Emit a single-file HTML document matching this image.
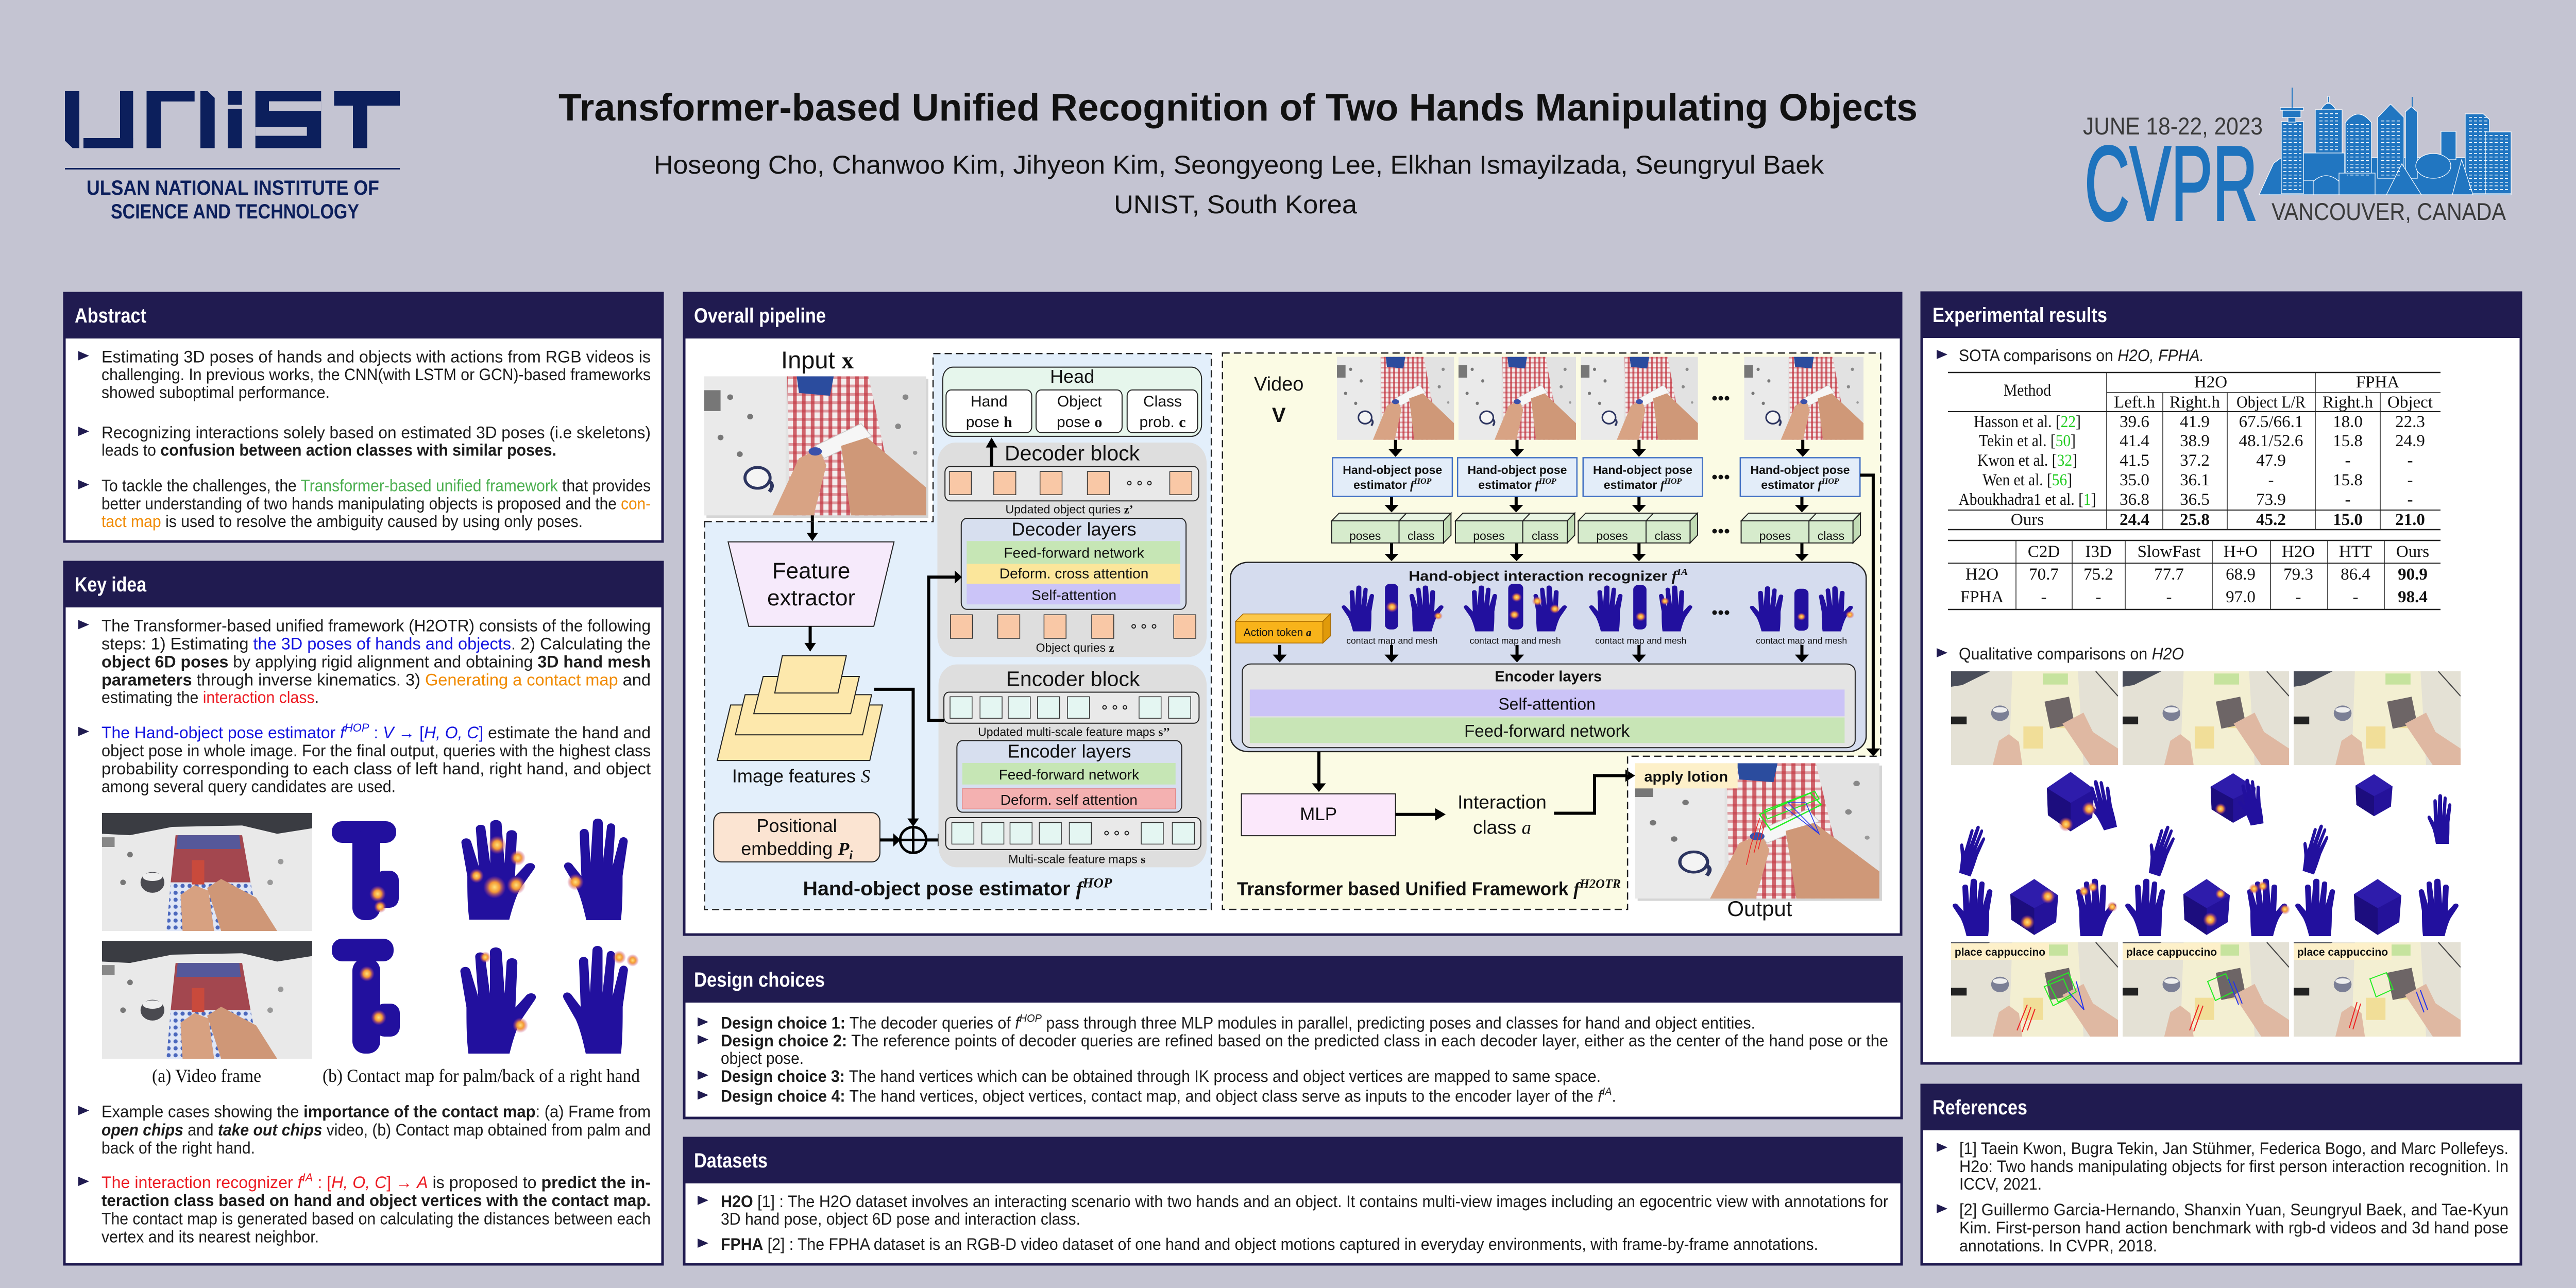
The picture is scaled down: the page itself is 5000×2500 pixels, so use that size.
<!DOCTYPE html>
<html><head><meta charset="utf-8">
<style>
html,body{margin:0;padding:0;background:#c4c4d2;}
svg{display:block}
.t{font-family:"Liberation Sans",Arial,sans-serif;font-size:32px;fill:#1c1c1c}
.ht{font-family:"Liberation Sans",Arial,sans-serif;font-size:40px;font-weight:bold;fill:#fff}
.b{font-weight:bold}
.it{font-style:italic}
.sf{font-family:"Liberation Serif","Times New Roman",serif}
.blue{fill:#1515e0}
.org{fill:#f08a00}
.red{fill:#ec1c24}
.grn{fill:#4caf50}
.gn{fill:#22cc22}
.tb{font-family:"Liberation Serif","Times New Roman",serif;font-size:33px;fill:#111;text-anchor:middle}
.d{font-family:"Liberation Sans",Arial,sans-serif;fill:#111;text-anchor:middle}
.ga *, .gb *{vector-effect:non-scaling-stroke}
</style></head><body>
<svg width="5000" height="2500" viewBox="0 0 5000 2500" xmlns="http://www.w3.org/2000/svg">
<defs>
 <pattern id="chk" width="12" height="12" patternUnits="userSpaceOnUse"><rect width="12" height="12" fill="#f4eeee"/><rect width="5" height="12" fill="#c2343f" opacity=".75"/><rect width="12" height="4" fill="#c2343f" opacity=".45"/></pattern>
 <pattern id="blu" width="10" height="10" patternUnits="userSpaceOnUse"><rect width="10" height="10" fill="#dfe6f6"/><circle cx="5" cy="5" r="3" fill="#4a67bd"/></pattern>
 <pattern id="win" width="10" height="7" patternUnits="userSpaceOnUse"><rect x="2" y="3" width="6" height="1.5" fill="#fff"/></pattern>
 <radialGradient id="hot"><stop offset="0" stop-color="#ffe27a"/><stop offset=".45" stop-color="#f59a35"/><stop offset="1" stop-color="#c03a8a" stop-opacity="0"/></radialGradient>
 <symbol id="tphoto" viewBox="0 0 300 200" preserveAspectRatio="none">
  <rect width="300" height="200" fill="#e2e2e2"/>
  <rect width="110" height="200" fill="#eaeaea"/>
  <rect x="0" y="20" width="22" height="30" fill="#777"/>
  <polygon points="112,0 222,0 262,200 116,200" fill="url(#chk)"/>
  <polygon points="125,0 175,0 170,28 128,24" fill="#2b4c9e"/>
  <circle cx="35" cy="30" r="4" fill="#777"/><circle cx="62" cy="58" r="4" fill="#777"/><circle cx="22" cy="88" r="4" fill="#777"/><circle cx="48" cy="112" r="4" fill="#777"/><circle cx="272" cy="30" r="4" fill="#888"/><circle cx="262" cy="72" r="4" fill="#888"/><circle cx="285" cy="110" r="3" fill="#999"/>
  <ellipse cx="72" cy="146" rx="17" ry="15" fill="#f4f4f4" stroke="#2d3560" stroke-width="4"/>
  <path d="M86,150 q10,5 2,16" stroke="#2d3560" stroke-width="5" fill="none"/>
  <polygon points="150,100 212,68 226,86 162,118" fill="#f6f6f6" stroke="#c8c8c8"/>
  <polygon points="92,200 148,200 165,128 155,104 128,118" fill="#d8a384"/>
  <polygon points="198,200 300,200 300,160 220,88 185,100" fill="#cf9878"/>
  <ellipse cx="150" cy="108" rx="9" ry="6" fill="#3a50aa"/>
 </symbol>
 <symbol id="kphoto" viewBox="0 0 300 170" preserveAspectRatio="none">
  <rect width="300" height="170" fill="#e9e9e9"/>
  <polygon points="0,0 300,0 300,22 250,30 200,18 100,20 40,32 0,30" fill="#3a3c42"/>
  <rect x="0" y="35" width="18" height="14" fill="#888"/>
  <polygon points="105,32 200,32 212,100 98,100" fill="#a3474f"/>
  <polygon points="108,32 196,32 198,52 106,52" fill="#55589a"/>
  <polygon points="98,100 212,100 226,170 92,170" fill="url(#blu)"/>
  <ellipse cx="72" cy="100" rx="17" ry="15" fill="#4a4a50"/>
  <ellipse cx="72" cy="92" rx="14" ry="6" fill="#eee"/>
  <rect x="128" y="68" width="18" height="35" fill="#c94a3c"/>
  <polygon points="115,170 160,170 152,112 132,104 112,118" fill="#d7a181"/>
  <polygon points="170,170 250,170 220,122 170,95 150,108" fill="#cf9777"/>
  <circle cx="40" cy="60" r="4" fill="#777"/><circle cx="30" cy="100" r="4" fill="#777"/><circle cx="255" cy="70" r="4" fill="#999"/><circle cx="240" cy="100" r="4" fill="#999"/>
 </symbol>
 <symbol id="qphoto" viewBox="0 0 300 170" preserveAspectRatio="none">
  <rect width="300" height="170" fill="#e4e1d5"/>
  <polygon points="110,0 228,0 238,170 104,170" fill="#f3efd2"/>
  <rect x="130" y="100" width="35" height="40" fill="#f0d98a" opacity=".8"/>
  <rect x="190" y="75" width="28" height="28" fill="#f0dc8e" opacity=".8"/>
  <rect x="165" y="4" width="45" height="20" fill="#c6e39e"/>
  <polygon points="0,0 70,0 20,25 0,28" fill="#4a4e5a"/>
  <rect x="0" y="82" width="28" height="14" fill="#222"/>
  <ellipse cx="88" cy="76" rx="16" ry="14" fill="#7b7f95"/>
  <ellipse cx="88" cy="70" rx="13" ry="5" fill="#eee"/>
  <polygon points="168,55 212,46 222,95 178,104" fill="#6d6566"/>
  <polygon points="200,95 238,75 255,110 300,140 300,170 250,170 220,125" fill="#dfb8a2"/>
  <polygon points="75,170 128,170 122,128 104,114 86,126" fill="#e0baa4"/>
  <line x1="260" y1="0" x2="300" y2="45" stroke="#444" stroke-width="2"/>
 </symbol>
 <symbol id="hand" viewBox="0 0 100 140" preserveAspectRatio="none">
  <path d="M30 140 C26 120 22 105 18 96 L4 70 C0 62 10 58 14 66 L24 80 L22 22 C22 14 33 14 33 22 L35 62 L38 8 C38 0 50 0 50 8 L50 62 L55 14 C55 6 66 7 65 15 L62 66 L70 32 C72 24 82 27 80 35 L74 80 C74 100 74 120 72 140 Z" fill="#22109e"/>
 </symbol>
 <symbol id="cube" viewBox="0 0 100 100" preserveAspectRatio="none">
  <polygon points="50,2 96,30 92,76 50,98 6,72 4,28" fill="#24129a"/>
  <polygon points="50,2 96,30 50,52 4,28" fill="#2e1cab"/>
  <polygon points="50,52 50,98 6,72 4,28" fill="#1c0d7e"/>
 </symbol>
</defs>

<rect width="5000" height="2500" fill="#c4c4d2"/>

<!-- ===== HEADER ===== -->
<g fill="#0c1f5c">
 <polygon points="126,177 154,177 154,287.5 141,287.5 126,273"/>
 <rect x="162" y="268" width="96.4" height="19.5"/>
 <rect x="233" y="177" width="25.4" height="110.5"/>
 <rect x="284.5" y="177" width="27.5" height="110.5"/>
 <rect x="312" y="177" width="65.7" height="20"/>
 <polygon points="389,177 403,177 416.7,190 416.7,287.5 389,287.5"/>
 <rect x="442" y="177" width="27.5" height="26.5"/>
 <rect x="442" y="211.6" width="27.5" height="76"/>
 <rect x="495.7" y="177" width="127.6" height="110.5"/>
 <rect x="648.5" y="177" width="127.5" height="28"/>
 <rect x="685" y="177" width="27.8" height="110.5"/>
 <rect x="126" y="326" width="650" height="3"/>
</g>
<rect x="522" y="196.6" width="101.3" height="18.4" fill="#c4c4d2"/>
<rect x="495.7" y="246.6" width="100" height="17" fill="#c4c4d2"/>
<text x="168" y="378" font-family="Liberation Sans, Arial, sans-serif" font-weight="bold" font-size="40" fill="#0c1f5c" textLength="568" lengthAdjust="spacingAndGlyphs">ULSAN NATIONAL INSTITUTE OF</text>
<text x="215" y="424" font-family="Liberation Sans, Arial, sans-serif" font-weight="bold" font-size="40" fill="#0c1f5c" textLength="482" lengthAdjust="spacingAndGlyphs">SCIENCE AND TECHNOLOGY</text>

<text x="1084" y="234" font-family="Liberation Sans, Arial, sans-serif" font-weight="bold" font-size="74" fill="#111" textLength="2638" lengthAdjust="spacingAndGlyphs">Transformer-based Unified Recognition of Two Hands Manipulating Objects</text>
<text x="1269" y="337" font-family="Liberation Sans, Arial, sans-serif" font-size="50" fill="#111" textLength="2271" lengthAdjust="spacingAndGlyphs">Hoseong Cho, Chanwoo Kim, Jihyeon Kim, Seongyeong Lee, Elkhan Ismayilzada, Seungryul Baek</text>
<text x="2162" y="414" font-family="Liberation Sans, Arial, sans-serif" font-size="50" fill="#111" textLength="472" lengthAdjust="spacingAndGlyphs">UNIST, South Korea</text>

<!-- CVPR logo -->
<text x="4043" y="261" font-family="Liberation Sans, Arial, sans-serif" font-size="47" fill="#3a3a3a" textLength="349" lengthAdjust="spacingAndGlyphs">JUNE 18-22, 2023</text>
<text x="4046" y="427" font-family="Liberation Sans, Arial, sans-serif" font-size="206" fill="#1e73bd" stroke="#1e73bd" stroke-width="4" textLength="336" lengthAdjust="spacingAndGlyphs">CVPR</text>
<text x="4409" y="427" font-family="Liberation Sans, Arial, sans-serif" font-size="47" fill="#3a3a3a" textLength="455" lengthAdjust="spacingAndGlyphs">VANCOUVER, CANADA</text>
<g fill="#2176c1" stroke="#fff" stroke-width="1.2">
 <polygon points="4385,378 4413,317 4428,306 4874,306 4874,378"/>
 <rect x="4494" y="213" width="52" height="84"/>
 <path d="M4505 213 Q4519 188 4534 213 Z"/>
 <rect x="4518" y="187" width="3" height="12"/>
 <path d="M4552 350 L4552 238 Q4577 205 4603 238 L4603 350 Z"/>
 <polygon points="4615,346 4615,228 4640,202 4666,228 4666,346"/>
 <polygon points="4669,346 4669,217 4680,207 4692,217 4692,346"/>
 <rect x="4738" y="255" width="29" height="55"/>
 <polygon points="4785,376 4785,221 4820,221 4832,232 4832,376"/>
 <rect x="4824" y="256" width="50" height="120"/>
 <rect x="4471" y="297" width="80" height="53"/>
 <ellipse cx="4723" cy="322" rx="34" ry="24"/>
 <polygon points="4632,378 4662,318 4700,378"/>
 <polygon points="4760,378 4778,310 4800,378"/>
 <rect x="4540" y="336" width="70" height="42"/>
 <path d="M4490 378 L4490 352 Q4515 330 4540 352 L4540 378 Z"/>
 <rect x="4428" y="236" width="43" height="140"/>
 <rect x="4441" y="228" width="15" height="9"/>
 <rect x="4430" y="214" width="36" height="14"/>
 <rect x="4426" y="209" width="45" height="5"/>
</g>
<line x1="4449" y1="170" x2="4449" y2="209" stroke="#2176c1" stroke-width="2"/>
<line x1="4682" y1="188" x2="4682" y2="207" stroke="#2176c1" stroke-width="2"/>
<rect x="4432" y="240" width="35" height="130" fill="url(#win)"/>
<rect x="4498" y="218" width="44" height="75" fill="url(#win)"/>
<rect x="4556" y="240" width="43" height="105" fill="url(#win)"/>
<rect x="4619" y="232" width="43" height="110" fill="url(#win)"/>
<rect x="4789" y="226" width="39" height="145" fill="url(#win)"/>
<rect x="4828" y="262" width="42" height="110" fill="url(#win)"/>

<!-- ===== PANELS ===== -->
<g stroke="#201b50" stroke-width="5" fill="#fff">
 <rect x="125" y="569" width="1161" height="482"/>
 <rect x="125" y="1091" width="1161" height="1363"/>
 <rect x="1328" y="569" width="2362" height="1245"/>
 <rect x="1328" y="1858" width="2363" height="312"/>
 <rect x="1328" y="2209" width="2363" height="245"/>
 <rect x="3730" y="568" width="1163" height="1496"/>
 <rect x="3730" y="2106" width="1163" height="348"/>
</g>
<g fill="#201b50">
 <rect x="122.5" y="566.5" width="1166" height="90.5"/>
 <rect x="122.5" y="1088.5" width="1166" height="90.5"/>
 <rect x="1325.5" y="566.5" width="2367" height="90.5"/>
 <rect x="1325.5" y="1855.5" width="2368" height="90.5"/>
 <rect x="1325.5" y="2206.5" width="2368" height="90.5"/>
 <rect x="3727.5" y="565.5" width="1168" height="90.5"/>
 <rect x="3727.5" y="2103.5" width="1168" height="90.5"/>
</g>
<text class="ht" x="145" y="626" textLength="139" lengthAdjust="spacingAndGlyphs">Abstract</text>
<text class="ht" x="145" y="1148" textLength="139" lengthAdjust="spacingAndGlyphs">Key idea</text>
<text class="ht" x="1347" y="626" textLength="256" lengthAdjust="spacingAndGlyphs">Overall pipeline</text>
<text class="ht" x="1347" y="1915" textLength="254" lengthAdjust="spacingAndGlyphs">Design choices</text>
<text class="ht" x="1347" y="2266" textLength="143" lengthAdjust="spacingAndGlyphs">Datasets</text>
<text class="ht" x="3751" y="625" textLength="339" lengthAdjust="spacingAndGlyphs">Experimental results</text>
<text class="ht" x="3751" y="2163" textLength="184" lengthAdjust="spacingAndGlyphs">References</text>

<!-- bullets -->
<g fill="#201b50">
 <polygon points="152,681.5 152,699.5 173,690.5"/>
 <polygon points="152,828.3 152,846.3 173,837.3"/>
 <polygon points="152,931.6 152,949.6 173,940.6"/>
 <polygon points="152,1203.4 152,1221.4 173,1212.4"/>
 <polygon points="152,1410.8 152,1428.8 173,1419.8"/>
 <polygon points="152,2146.5 152,2164.5 173,2155.5"/>
 <polygon points="152,2284 152,2302 173,2293"/>
 <polygon points="1354,1974.6 1354,1992.6 1375,1983.6"/>
 <polygon points="1354,2008.8 1354,2026.8 1375,2017.8"/>
 <polygon points="1354,2078 1354,2096 1375,2087"/>
 <polygon points="1354,2116.5 1354,2134.5 1375,2125.5"/>
 <polygon points="1354,2320.8 1354,2338.8 1375,2329.8"/>
 <polygon points="1354,2404 1354,2422 1375,2413"/>
 <polygon points="3759,679 3759,697 3780,688"/>
 <polygon points="3759,1258 3759,1276 3780,1267"/>
 <polygon points="3759,2218 3759,2236 3780,2227"/>
 <polygon points="3759,2337 3759,2355 3780,2346"/>
</g>

<!-- ===== ABSTRACT ===== -->
<text class="t" x="197" y="703.5" textLength="1066" lengthAdjust="spacingAndGlyphs">Estimating 3D poses of hands and objects with actions from RGB videos is</text>
<text class="t" x="197" y="738" textLength="1066" lengthAdjust="spacingAndGlyphs">challenging. In previous works, the CNN(with LSTM or GCN)-based frameworks</text>
<text class="t" x="197" y="772.5" textLength="443" lengthAdjust="spacingAndGlyphs">showed suboptimal performance.</text>
<text class="t" x="197" y="850.3" textLength="1066" lengthAdjust="spacingAndGlyphs">Recognizing interactions solely based on estimated 3D poses (i.e skeletons)</text>
<text class="t" x="197" y="884.7" textLength="883" lengthAdjust="spacingAndGlyphs">leads to <tspan class="b">confusion between action classes with similar poses.</tspan></text>
<text class="t" x="197" y="953.6" textLength="1066" lengthAdjust="spacingAndGlyphs">To tackle the challenges, the <tspan class="grn">Transformer-based unified framework</tspan> that provides</text>
<text class="t" x="197" y="988.7" textLength="1066" lengthAdjust="spacingAndGlyphs">better understanding of two hands manipulating objects is proposed and the <tspan class="org">con-</tspan></text>
<text class="t" x="197" y="1023.2" textLength="934" lengthAdjust="spacingAndGlyphs"><tspan class="org">tact map</tspan> is used to resolve the ambiguity caused by using only poses.</text>

<!-- ===== KEY IDEA ===== -->
<text class="t" x="197" y="1225.4" textLength="1066" lengthAdjust="spacingAndGlyphs">The Transformer-based unified framework (H2OTR) consists of the following</text>
<text class="t" x="197" y="1260.5" textLength="1066" lengthAdjust="spacingAndGlyphs">steps: 1) Estimating <tspan class="blue">the 3D poses of hands and objects</tspan>.  2) Calculating the</text>
<text class="t" x="197" y="1295.6" textLength="1066" lengthAdjust="spacingAndGlyphs"><tspan class="b">object 6D poses</tspan> by applying rigid alignment and obtaining <tspan class="b">3D hand mesh</tspan></text>
<text class="t" x="197" y="1330.7" textLength="1066" lengthAdjust="spacingAndGlyphs"><tspan class="b">parameters</tspan> through inverse kinematics.  3) <tspan class="org">Generating a contact map</tspan> and</text>
<text class="t" x="197" y="1364.5" textLength="422" lengthAdjust="spacingAndGlyphs">estimating the <tspan class="red">interaction class</tspan>.</text>
<text class="t" x="197" y="1432.8" textLength="1066" lengthAdjust="spacingAndGlyphs"><tspan class="blue">The Hand-object pose estimator </tspan><tspan class="blue it">f</tspan><tspan class="blue it" font-size="22" dy="-13">HOP</tspan><tspan class="blue" dy="13"> : </tspan><tspan class="blue it">V</tspan><tspan class="blue"> → [</tspan><tspan class="blue it">H, O, C</tspan><tspan class="blue">]</tspan> estimate the hand and</text>
<text class="t" x="197" y="1467.9" textLength="1066" lengthAdjust="spacingAndGlyphs">object pose in whole image.  For the final output, queries with the highest class</text>
<text class="t" x="197" y="1503" textLength="1066" lengthAdjust="spacingAndGlyphs">probability corresponding to each class of left hand, right hand, and object</text>
<text class="t" x="197" y="1537.4" textLength="571" lengthAdjust="spacingAndGlyphs">among several query candidates are used.</text>

<!-- key idea images -->
<use href="#kphoto" x="198" y="1578" width="408" height="229"/>
<use href="#kphoto" x="198" y="1826" width="408" height="229"/>
<!-- row 1 hands -->
<rect x="644" y="1594" width="125" height="42" rx="20" fill="#22109e"/>
<rect x="684" y="1612" width="54" height="174" rx="24" fill="#22109e"/>
<rect x="728" y="1690" width="46" height="72" rx="18" fill="#22109e"/>
<circle cx="733" cy="1735" r="16" fill="url(#hot)"/><circle cx="738" cy="1760" r="12" fill="url(#hot)"/>
<use href="#hand" transform="translate(1044 1589) scale(-1 1)" width="185" height="196"/>
<circle cx="965" cy="1640" r="18" fill="url(#hot)"/><circle cx="1005" cy="1665" r="15" fill="url(#hot)"/><circle cx="960" cy="1722" r="22" fill="url(#hot)"/><circle cx="1002" cy="1718" r="18" fill="url(#hot)"/><circle cx="925" cy="1700" r="14" fill="url(#hot)"/>
<use href="#hand" x="1090" y="1586" width="160" height="200"/>
<circle cx="1117" cy="1712" r="16" fill="url(#hot)"/>
<!-- row 2 hands -->
<rect x="644" y="1822" width="120" height="44" rx="20" fill="#22109e"/>
<rect x="684" y="1860" width="54" height="185" rx="24" fill="#22109e"/>
<rect x="728" y="1948" width="48" height="64" rx="18" fill="#22109e"/>
<circle cx="712" cy="1890" r="15" fill="url(#hot)"/><circle cx="735" cy="1975" r="15" fill="url(#hot)"/>
<use href="#hand" transform="translate(1046 1836) scale(-1 1)" width="190" height="209"/>
<circle cx="942" cy="1858" r="11" fill="url(#hot)"/><circle cx="1010" cy="1990" r="15" fill="url(#hot)"/>
<use href="#hand" x="1088" y="1833" width="163" height="212"/>
<circle cx="1202" cy="1858" r="13" fill="url(#hot)"/><circle cx="1228" cy="1864" r="12" fill="url(#hot)"/>
<text class="sf" x="401" y="2100" font-size="36" fill="#111" text-anchor="middle" textLength="212" lengthAdjust="spacingAndGlyphs">(a) Video frame</text>
<text class="sf" x="934" y="2100" font-size="36" fill="#111" text-anchor="middle" textLength="616" lengthAdjust="spacingAndGlyphs">(b) Contact map for palm/back of a right hand</text>

<text class="t" x="197" y="2168.5" textLength="1066" lengthAdjust="spacingAndGlyphs">Example cases showing the <tspan class="b">importance of the contact map</tspan>: (a) Frame from</text>
<text class="t" x="197" y="2204" textLength="1066" lengthAdjust="spacingAndGlyphs"><tspan class="b it">open chips</tspan> and <tspan class="b it">take out chips</tspan> video, (b) Contact map obtained from palm and</text>
<text class="t" x="197" y="2239" textLength="298" lengthAdjust="spacingAndGlyphs">back of the right hand.</text>
<text class="t" x="197" y="2306" textLength="1066" lengthAdjust="spacingAndGlyphs"><tspan class="red">The interaction recognizer </tspan><tspan class="red it">f</tspan><tspan class="red it" font-size="22" dy="-13">IA</tspan><tspan class="red" dy="13"> : [</tspan><tspan class="red it">H, O, C</tspan><tspan class="red">] → </tspan><tspan class="red it">A</tspan> is proposed to <tspan class="b">predict the in-</tspan></text>
<text class="t b" x="197" y="2341" textLength="1066" lengthAdjust="spacingAndGlyphs">teraction class based on hand and object vertices with the contact map.</text>
<text class="t" x="197" y="2376.6" textLength="1066" lengthAdjust="spacingAndGlyphs">The contact map is generated based on calculating the distances between each</text>
<text class="t" x="197" y="2411.5" textLength="422" lengthAdjust="spacingAndGlyphs">vertex and its nearest neighbor.</text>

<!-- ===== PIPELINE ===== -->
<g class="ga" transform="translate(1320 560) scale(0.7015 0.8036)">
 <polygon points="68,563 700,563 700,157 1470,157 1470,1500 68,1500" fill="#e3effb"/>
 <rect x="73" y="218" width="614" height="336" fill="#888" opacity=".35"/>
 <use href="#tphoto" x="67" y="212" width="614" height="336"/>
 <line x1="366" y1="548" x2="366" y2="592" stroke="#000" stroke-width="6"/>
 <polygon points="350,590 382,590 366,610" fill="#000"/>
 <polygon points="133,612 592,612 536,816 190,816" fill="#f6eafb" stroke="#222" stroke-width="2"/>
 <line x1="360" y1="816" x2="360" y2="858" stroke="#000" stroke-width="6"/>
 <polygon points="344,856 376,856 360,877" fill="#000"/>
 <g fill="#fde8ac" stroke="#222" stroke-width="2">
  <polygon points="140,1006 560,1006 525,1140 103,1140"/>
  <polygon points="180,981 530,981 505,1078 153,1078"/>
  <polygon points="230,937 496,937 472,1027 204,1027"/>
  <polygon points="283,887 460,887 437,977 262,977"/>
 </g>
 <rect x="93" y="1266" width="460" height="119" rx="22" fill="#fbe4d2" stroke="#222" stroke-width="2"/>
 <line x1="553" y1="1332" x2="592" y2="1332" stroke="#000" stroke-width="6"/>
 <polygon points="590,1316 590,1348 610,1332" fill="#000"/>
 <polyline points="537,968 645,968 645,1282" fill="none" stroke="#000" stroke-width="6"/>
 <polygon points="629,1280 661,1280 645,1300" fill="#000"/>
 <ellipse cx="645" cy="1332" rx="36" ry="31" fill="none" stroke="#000" stroke-width="5"/>
 <line x1="609" y1="1332" x2="681" y2="1332" stroke="#000" stroke-width="5"/>
 <line x1="645" y1="1301" x2="645" y2="1363" stroke="#000" stroke-width="5"/>
 <line x1="681" y1="1332" x2="715" y2="1332" stroke="#000" stroke-width="6"/>
 <polygon points="713,1316 713,1348 735,1332" fill="#000"/>
 <!-- head -->
 <rect x="727" y="190" width="716" height="167" rx="28" fill="#e6f6ec" stroke="#222" stroke-width="2"/>
 <rect x="736" y="245" width="237" height="103" rx="14" fill="#fff" stroke="#222" stroke-width="2"/>
 <rect x="985" y="245" width="238" height="103" rx="14" fill="#fff" stroke="#222" stroke-width="2"/>
 <rect x="1237" y="245" width="195" height="103" rx="14" fill="#fff" stroke="#222" stroke-width="2"/>
 <!-- decoder block -->
 <rect x="712" y="372" width="745" height="518" rx="50" fill="#dedede"/>
 <line x1="862" y1="430" x2="862" y2="382" stroke="#000" stroke-width="6"/>
 <polygon points="846,384 878,384 862,360" fill="#000"/>
 <rect x="733" y="430" width="702" height="83" rx="14" fill="#e9e9e9" stroke="#222" stroke-width="2"/>
 <g fill="#f9c8a6" stroke="#333" stroke-width="1.5">
  <rect x="745" y="442" width="61" height="56"/><rect x="868" y="442" width="61" height="56"/><rect x="996" y="442" width="61" height="56"/><rect x="1127" y="442" width="61" height="56"/><rect x="1355" y="442" width="61" height="56"/>
  <rect x="748" y="788" width="61" height="57"/><rect x="879" y="788" width="61" height="57"/><rect x="1007" y="788" width="61" height="57"/><rect x="1139" y="788" width="61" height="57"/><rect x="1366" y="788" width="61" height="57"/>
 </g>
 <rect x="778" y="555" width="622" height="220" rx="16" fill="#d7dfef" stroke="#222" stroke-width="2"/>
 <rect x="793" y="610" width="591" height="55" fill="#c6e6b5"/>
 <rect x="793" y="665" width="591" height="48" fill="#fbe69b"/>
 <rect x="793" y="713" width="591" height="50" fill="#cbc4f8"/>
 <!-- encoder block -->
 <rect x="715" y="908" width="742" height="490" rx="50" fill="#dedede"/>
 <rect x="730" y="975" width="706" height="75" rx="14" fill="#e9e9e9" stroke="#222" stroke-width="2"/>
 <rect x="735" y="1278" width="706" height="77" rx="14" fill="#e9e9e9" stroke="#222" stroke-width="2"/>
 <g fill="#e4f6f2" stroke="#333" stroke-width="1.5">
  <rect x="747" y="986" width="61" height="52"/><rect x="830" y="986" width="61" height="52"/><rect x="908" y="986" width="61" height="52"/><rect x="989" y="986" width="61" height="52"/><rect x="1072" y="986" width="61" height="52"/><rect x="1270" y="986" width="61" height="52"/><rect x="1352" y="986" width="61" height="52"/>
  <rect x="752" y="1290" width="61" height="52"/><rect x="835" y="1290" width="61" height="52"/><rect x="913" y="1290" width="61" height="52"/><rect x="994" y="1290" width="61" height="52"/><rect x="1077" y="1290" width="61" height="52"/><rect x="1276" y="1290" width="61" height="52"/><rect x="1362" y="1290" width="61" height="52"/>
 </g>
 <rect x="766" y="1092" width="622" height="173" rx="16" fill="#d7dfef" stroke="#222" stroke-width="2"/>
 <rect x="781" y="1146" width="590" height="52" fill="#c6e6b5"/>
 <rect x="781" y="1208" width="590" height="49" fill="#f4b1b1" stroke="#e07a7a" stroke-width="1"/>
 <polyline points="730,1043 688,1043 688,697 762,697" fill="none" stroke="#000" stroke-width="6"/>
 <polygon points="760,681 760,713 780,697" fill="#000"/>
</g>
<!-- dots in left pipeline rows -->
<g fill="none" stroke="#222" stroke-width="2">
 <circle cx="2192" cy="937.7" r="3.5"/><circle cx="2212" cy="937.7" r="3.5"/><circle cx="2231" cy="937.7" r="3.5"/>
 <circle cx="2200.5" cy="1215.7" r="3.5"/><circle cx="2220" cy="1215.7" r="3.5"/><circle cx="2240" cy="1215.7" r="3.5"/>
 <circle cx="2144" cy="1373" r="3.5"/><circle cx="2164" cy="1373" r="3.5"/><circle cx="2183.5" cy="1373" r="3.5"/>
 <circle cx="2147.8" cy="1617" r="3.5"/><circle cx="2167.5" cy="1617" r="3.5"/><circle cx="2187" cy="1617" r="3.5"/>
</g>
<polygon points="1367.7,1012.4 1811.1,1012.4 1811.1,686.2 2351.2,686.2 2351.2,1765.4 1367.7,1765.4" fill="none" stroke="#222" stroke-width="2.5" stroke-dasharray="14 8"/>
<!-- left pipeline texts -->
<text class="d" x="1586.6" y="715" font-size="47">Input <tspan class="sf b">x</tspan></text>
<text class="d" x="1574.6" y="1122.5" font-size="44">Feature</text>
<text class="d" x="1574.6" y="1174.8" font-size="44">extractor</text>
<text class="d" x="1555" y="1518.7" font-size="36">Image features <tspan class="sf it">S</tspan></text>
<text class="d" x="1546.6" y="1615.1" font-size="36">Positional</text>
<text class="d" x="1546.6" y="1659.3" font-size="36">embedding <tspan class="sf b it">P</tspan><tspan class="sf b it" font-size="24" dy="8">i</tspan></text>
<text class="d" x="2081.1" y="743.2" font-size="36">Head</text>
<text class="d" x="1919.8" y="789" font-size="30">Hand</text>
<text class="d" x="1919.8" y="829.2" font-size="30">pose <tspan class="sf b">h</tspan></text>
<text class="d" x="2095.2" y="789" font-size="30">Object</text>
<text class="d" x="2095.2" y="829.2" font-size="30">pose  <tspan class="sf b">o</tspan></text>
<text class="d" x="2256.5" y="789" font-size="30">Class</text>
<text class="d" x="2256.5" y="829.2" font-size="30">prob. <tspan class="sf b">c</tspan></text>
<text class="d" x="2081.1" y="893.5" font-size="41">Decoder block</text>
<text class="d" x="2075.5" y="996.4" font-size="23">Updated object quries <tspan class="sf b">z’</tspan></text>
<text class="d" x="2084.6" y="1039.7" font-size="36">Decoder layers</text>
<text class="d" x="2084.6" y="1082.3" font-size="28">Feed-forward network</text>
<text class="d" x="2084.6" y="1122.5" font-size="28">Deform. cross attention</text>
<text class="d" x="2084.6" y="1164.3" font-size="28">Self-attention</text>
<text class="d" x="2086.7" y="1264.8" font-size="23">Object quries <tspan class="sf b">z</tspan></text>
<text class="d" x="2082.5" y="1331.5" font-size="41">Encoder block</text>
<text class="d" x="2084.6" y="1428.7" font-size="23">Updated multi-scale feature maps <tspan class="sf b">s’’</tspan></text>
<text class="d" x="2075.5" y="1470.5" font-size="36">Encoder layers</text>
<text class="d" x="2074.8" y="1513.1" font-size="28">Feed-forward network</text>
<text class="d" x="2074.8" y="1562.1" font-size="28">Deform. self attention</text>
<text class="d" x="2090.2" y="1675.4" font-size="23">Multi-scale feature maps <tspan class="sf b">s</tspan></text>
<text x="1558.5" y="1737.3" font-family="Liberation Sans, Arial, sans-serif" font-weight="bold" font-size="38" fill="#111" textLength="600" lengthAdjust="spacingAndGlyphs">Hand-object pose estimator <tspan class="sf it">f</tspan><tspan class="sf it" font-size="26" dy="-15">HOP</tspan></text>

<!-- right pipeline -->
<g class="gb" transform="translate(2360 640) scale(0.8546 0.7526)">
 <polygon points="15,60 1510,60 1510,1100 935,1100 935,1495 15,1495" fill="#fbfbe4"/>
 <use href="#tphoto" x="275" y="70" width="266" height="214"/>
 <use href="#tphoto" x="551" y="70" width="267" height="214"/>
 <use href="#tphoto" x="829" y="70" width="266" height="214"/>
 <use href="#tphoto" x="1200" y="70" width="271" height="214"/>
 <g stroke="#000" stroke-width="6">
  <line x1="408" y1="284" x2="408" y2="310"/><line x1="684" y1="284" x2="684" y2="310"/><line x1="961" y1="284" x2="961" y2="310"/><line x1="1333" y1="284" x2="1333" y2="310"/>
  <line x1="399" y1="430" x2="399" y2="454"/><line x1="682" y1="430" x2="682" y2="454"/><line x1="961" y1="430" x2="961" y2="454"/><line x1="1331" y1="430" x2="1331" y2="454"/>
  <line x1="399" y1="550" x2="399" y2="580"/><line x1="683" y1="550" x2="683" y2="580"/><line x1="961" y1="550" x2="961" y2="580"/><line x1="1331" y1="550" x2="1331" y2="580"/>
 </g>
 <g fill="#000">
  <polygon points="392,308 424,308 408,328"/><polygon points="668,308 700,308 684,328"/><polygon points="945,308 977,308 961,328"/><polygon points="1317,308 1349,308 1333,328"/>
  <polygon points="383,452 415,452 399,471"/><polygon points="666,452 698,452 682,471"/><polygon points="945,452 977,452 961,471"/><polygon points="1315,452 1347,452 1331,471"/>
  <polygon points="383,578 415,578 399,597"/><polygon points="667,578 699,578 683,597"/><polygon points="945,578 977,578 961,597"/><polygon points="1315,578 1347,578 1331,597"/>
 </g>
 <g fill="#e3edf9" stroke="#4472c4" stroke-width="2.5">
  <rect x="265" y="330" width="272" height="100"/><rect x="549" y="330" width="271" height="100"/><rect x="834" y="330" width="271" height="100"/><rect x="1191" y="330" width="272" height="100"/>
 </g>
 <g stroke="#222" stroke-width="2">
  <polygon points="263,493 280,473 534,473 517,493" fill="#e9f5e3"/><polygon points="517,493 534,473 534,530 517,550" fill="#c2dcb5"/><rect x="263" y="493" width="254" height="57" fill="#d6ebcc"/><line x1="416" y1="493" x2="416" y2="550"/><line x1="416" y1="493" x2="433" y2="473"/>
  <polygon points="544,493 561,473 815,473 798,493" fill="#e9f5e3"/><polygon points="798,493 815,473 815,530 798,550" fill="#c2dcb5"/><rect x="544" y="493" width="254" height="57" fill="#d6ebcc"/><line x1="697" y1="493" x2="697" y2="550"/><line x1="697" y1="493" x2="714" y2="473"/>
  <polygon points="823,493 840,473 1094,473 1077,493" fill="#e9f5e3"/><polygon points="1077,493 1094,473 1094,530 1077,550" fill="#c2dcb5"/><rect x="823" y="493" width="254" height="57" fill="#d6ebcc"/><line x1="977" y1="493" x2="977" y2="550"/><line x1="977" y1="493" x2="994" y2="473"/>
  <polygon points="1193,493 1210,473 1464,473 1447,493" fill="#e9f5e3"/><polygon points="1447,493 1464,473 1464,530 1447,550" fill="#c2dcb5"/><rect x="1193" y="493" width="254" height="57" fill="#d6ebcc"/><line x1="1347" y1="493" x2="1347" y2="550"/><line x1="1347" y1="493" x2="1364" y2="473"/>
 </g>
 <rect x="33" y="600" width="1444" height="488" rx="40" fill="#d5dcee" stroke="#222" stroke-width="2.5"/>
 <!-- contact hands -->
 <use href="#hand" x="283" y="658" width="95" height="120"/>
 <rect x="384" y="655" width="30" height="118" rx="12" fill="#22109e"/>
 <circle cx="400" cy="715" r="14" fill="url(#hot)"/>
 <use href="#hand" transform="translate(520 658) scale(-1 1)" width="100" height="120"/>
 <circle cx="505" cy="738" r="10" fill="url(#hot)"/>
 <use href="#hand" x="560" y="658" width="98" height="120"/>
 <rect x="664" y="655" width="34" height="118" rx="12" fill="#22109e"/>
 <circle cx="683" cy="690" r="12" fill="url(#hot)"/><circle cx="678" cy="735" r="12" fill="url(#hot)"/>
 <use href="#hand" transform="translate(800 658) scale(-1 1)" width="98" height="120"/>
 <circle cx="730" cy="700" r="12" fill="url(#hot)"/><circle cx="770" cy="720" r="12" fill="url(#hot)"/>
 <use href="#hand" x="845" y="658" width="98" height="120"/>
 <rect x="948" y="658" width="30" height="115" rx="12" fill="#22109e"/>
 <circle cx="965" cy="740" r="12" fill="url(#hot)"/>
 <use href="#hand" transform="translate(1085 658) scale(-1 1)" width="98" height="120"/>
 <circle cx="1020" cy="700" r="10" fill="url(#hot)"/>
 <use href="#hand" x="1210" y="660" width="98" height="118"/>
 <rect x="1314" y="668" width="32" height="108" rx="12" fill="#22109e"/>
 <circle cx="1330" cy="740" r="10" fill="url(#hot)"/>
 <use href="#hand" transform="translate(1450 660) scale(-1 1)" width="100" height="118"/>
 <circle cx="1440" cy="735" r="10" fill="url(#hot)"/>
 <!-- action token -->
 <polygon points="45,752 62,733 260,733 243,752" fill="#fcc84a" stroke="#a86a00" stroke-width="1.5"/>
 <polygon points="243,752 260,733 260,790 243,808" fill="#e09a0a" stroke="#a86a00" stroke-width="1.5"/>
 <rect x="45" y="752" width="198" height="56" fill="#f8b31a" stroke="#a86a00" stroke-width="1.5"/>
 <g stroke="#000" stroke-width="6">
  <line x1="145" y1="813" x2="145" y2="840"/><line x1="399" y1="813" x2="399" y2="840"/><line x1="684" y1="813" x2="684" y2="840"/><line x1="961" y1="813" x2="961" y2="840"/><line x1="1331" y1="813" x2="1331" y2="840"/>
 </g>
 <g fill="#000">
  <polygon points="129,838 161,838 145,858"/><polygon points="383,838 415,838 399,858"/><polygon points="668,838 700,838 684,858"/><polygon points="945,838 977,838 961,858"/><polygon points="1315,838 1347,838 1331,858"/>
 </g>
 <rect x="60" y="862" width="1392" height="216" rx="20" fill="#e4e4e4" stroke="#222" stroke-width="2"/>
 <rect x="77" y="928" width="1351" height="69" fill="#cbc3f7"/>
 <rect x="77" y="1000" width="1351" height="66" fill="#c8e5b6"/>
 <polyline points="1463,375 1493,375 1493,1082" fill="none" stroke="#000" stroke-width="6"/>
 <polygon points="1477,1080 1509,1080 1493,1100" fill="#000"/>
 <line x1="234" y1="1088" x2="234" y2="1172" stroke="#000" stroke-width="6"/>
 <polygon points="218,1170 250,1170 234,1192" fill="#000"/>
 <rect x="58" y="1197" width="350" height="108" fill="#fbe8fb" stroke="#222" stroke-width="2"/>
 <line x1="408" y1="1250" x2="500" y2="1250" stroke="#000" stroke-width="6"/>
 <polygon points="498,1234 498,1266 522,1250" fill="#000"/>
 <polyline points="768,1247 860,1247 860,1150 932,1150" fill="none" stroke="#000" stroke-width="6"/>
 <polygon points="930,1134 930,1166 952,1150" fill="#000"/>
 <rect x="958" y="1124" width="555" height="349" fill="#888" opacity=".35"/>
 <use href="#tphoto" x="952" y="1118" width="555" height="349"/>
 <polygon points="1235,1250 1350,1195 1375,1225 1260,1290" fill="none" stroke="#22ee22" stroke-width="2.5"/>
 <polygon points="1245,1240 1360,1190 1370,1210 1252,1262" fill="none" stroke="#22ee22" stroke-width="2"/>
 <polyline points="1290,1230 1370,1300 1340,1220 1300,1220 1370,1300" fill="none" stroke="#2233ee" stroke-width="1.5"/>
 <path d="M1235,1260 L1215,1330 L1205,1380 M1240,1270 L1222,1350 M1245,1280 L1232,1340" fill="none" stroke="#ee2222" stroke-width="1.5"/>
 <rect x="952" y="1118" width="233" height="65" fill="#fdf0c9"/>
</g>
<polygon points="2372.8,685.2 3650.4,685.2 3650.4,1467.9 3159.1,1467.9 3159.1,1765.1 2372.8,1765.1" fill="none" stroke="#222" stroke-width="2.5" stroke-dasharray="14 8"/>
<g fill="#111">
 <circle cx="3328" cy="773" r="4.5"/><circle cx="3340" cy="773" r="4.5"/><circle cx="3352" cy="773" r="4.5"/>
 <circle cx="3328" cy="926" r="4.5"/><circle cx="3340" cy="926" r="4.5"/><circle cx="3352" cy="926" r="4.5"/>
 <circle cx="3328" cy="1031" r="4.5"/><circle cx="3340" cy="1031" r="4.5"/><circle cx="3352" cy="1031" r="4.5"/>
 <circle cx="3328" cy="1189" r="4.5"/><circle cx="3340" cy="1189" r="4.5"/><circle cx="3352" cy="1189" r="4.5"/>
</g>
<!-- right pipeline texts -->
<text class="d" x="2482.2" y="758.2" font-size="38">Video</text>
<text class="d sf b" x="2482.2" y="819" font-size="40">V</text>
<g class="d b" font-size="23">
 <text x="2702.7" y="920">Hand-object pose</text>
 <text x="2945" y="920">Hand-object pose</text>
 <text x="3188.5" y="920">Hand-object pose</text>
 <text x="3494" y="920">Hand-object pose</text>
 <text x="2702.7" y="949">estimator <tspan class="sf it">f</tspan><tspan class="sf it" font-size="16" dy="-10">HOP</tspan></text>
 <text x="2945" y="949">estimator <tspan class="sf it">f</tspan><tspan class="sf it" font-size="16" dy="-10">HOP</tspan></text>
 <text x="3188.5" y="949">estimator <tspan class="sf it">f</tspan><tspan class="sf it" font-size="16" dy="-10">HOP</tspan></text>
 <text x="3494" y="949">estimator <tspan class="sf it">f</tspan><tspan class="sf it" font-size="16" dy="-10">HOP</tspan></text>
</g>
<g class="d" font-size="23">
 <text x="2649.7" y="1048">poses</text><text x="2758.2" y="1048">class</text>
 <text x="2889.9" y="1048">poses</text><text x="2999.2" y="1048">class</text>
 <text x="3129.1" y="1048">poses</text><text x="3237.7" y="1048">class</text>
 <text x="3445.3" y="1048">poses</text><text x="3553.9" y="1048">class</text>
</g>
<text x="2734.3" y="1126.9" font-family="Liberation Sans, Arial, sans-serif" font-weight="bold" font-size="27" fill="#111" textLength="542" lengthAdjust="spacingAndGlyphs">Hand-object interaction recognizer <tspan class="sf it">f</tspan><tspan class="sf it" font-size="18" dy="-11">IA</tspan></text>
<g class="d" font-size="17.5">
 <text x="2701.8" y="1249.6">contact map and mesh</text>
 <text x="2941.1" y="1249.6">contact map and mesh</text>
 <text x="3184.7" y="1249.6">contact map and mesh</text>
 <text x="3496.6" y="1249.6">contact map and mesh</text>
</g>
<text class="d" x="2479.6" y="1234.6" font-size="21">Action token <tspan class="sf b it">a</tspan></text>
<text class="d b" x="3005.2" y="1322.6" font-size="29">Encoder layers</text>
<text class="d" x="3002.6" y="1377.5" font-size="32">Self-attention</text>
<text class="d" x="3002.6" y="1430.2" font-size="33">Feed-forward network</text>
<text class="d" x="2559.1" y="1592" font-size="35">MLP</text>
<text class="d" x="2915.5" y="1569.5" font-size="37">Interaction</text>
<text class="d" x="2915.5" y="1618.4" font-size="37">class <tspan class="sf it">a</tspan></text>
<text class="d b" x="3272.7" y="1516.8" font-size="29">apply lotion</text>
<text class="d" x="3415.4" y="1777.9" font-size="42">Output</text>
<text x="2401" y="1737.3" font-family="Liberation Sans, Arial, sans-serif" font-weight="bold" font-size="36" fill="#111" textLength="745" lengthAdjust="spacingAndGlyphs">Transformer based Unified Framework <tspan class="sf it">f</tspan><tspan class="sf it" font-size="25" dy="-14">H2OTR</tspan></text>

<!-- ===== DESIGN CHOICES ===== -->
<text class="t" x="1399" y="1996.6" textLength="2008" lengthAdjust="spacingAndGlyphs"><tspan class="b">Design choice 1:</tspan> The decoder queries of <tspan class="it">f</tspan><tspan class="it" font-size="21" dy="-13">HOP</tspan><tspan dy="13"> pass through three MLP modules in parallel, predicting poses and classes for hand and object entities.</tspan></text>
<text class="t" x="1399" y="2030.8" textLength="2266" lengthAdjust="spacingAndGlyphs"><tspan class="b">Design choice 2:</tspan> The reference points of decoder queries are refined based on the predicted class in each decoder layer, either as the center of the hand pose or the</text>
<text class="t" x="1399" y="2065" textLength="161" lengthAdjust="spacingAndGlyphs">object pose.</text>
<text class="t" x="1399" y="2100" textLength="1708" lengthAdjust="spacingAndGlyphs"><tspan class="b">Design choice 3:</tspan> The hand vertices which can be obtained through IK process and object vertices are mapped to same space.</text>
<text class="t" x="1399" y="2138.5" textLength="1738" lengthAdjust="spacingAndGlyphs"><tspan class="b">Design choice 4:</tspan> The hand vertices, object vertices, contact map, and object class serve as inputs to the encoder layer of the <tspan class="it">f</tspan><tspan class="it" font-size="21" dy="-13">IA</tspan><tspan dy="13">.</tspan></text>

<!-- ===== DATASETS ===== -->
<text class="t" x="1399" y="2342.8" textLength="2266" lengthAdjust="spacingAndGlyphs"><tspan class="b">H2O</tspan> [1] : The H2O dataset involves an interacting scenario with two hands and an object.  It contains multi-view images including an egocentric view with annotations for</text>
<text class="t" x="1399" y="2377" textLength="698" lengthAdjust="spacingAndGlyphs">3D hand pose, object 6D pose and interaction class.</text>
<text class="t" x="1399" y="2426" textLength="2130" lengthAdjust="spacingAndGlyphs"><tspan class="b">FPHA</tspan> [2] : The FPHA dataset is an RGB-D video dataset of one hand and object motions captured in everyday environments, with frame-by-frame annotations.</text>

<!-- ===== EXPERIMENTAL RESULTS ===== -->
<text class="t" x="3802" y="701" textLength="476" lengthAdjust="spacingAndGlyphs">SOTA comparisons on <tspan class="it">H2O, FPHA.</tspan></text>
<g stroke="#222">
 <line x1="3781" y1="723" x2="4737" y2="723" stroke-width="2.5"/>
 <line x1="4089" y1="762" x2="4737" y2="762" stroke-width="1.5"/>
 <line x1="3781" y1="799" x2="4737" y2="799" stroke-width="2"/>
 <line x1="3781" y1="990" x2="4737" y2="990" stroke-width="2"/>
 <line x1="3781" y1="1028" x2="4737" y2="1028" stroke-width="2.5"/>
 <line x1="4089" y1="723" x2="4089" y2="1028" stroke-width="1.5"/>
 <line x1="4198" y1="762" x2="4198" y2="1028" stroke-width="1.5"/>
 <line x1="4323" y1="762" x2="4323" y2="1028" stroke-width="1.5"/>
 <line x1="4494" y1="723" x2="4494" y2="1028" stroke-width="1.5"/>
 <line x1="4620" y1="762" x2="4620" y2="1028" stroke-width="1.5"/>
 <line x1="3781" y1="1049" x2="4737" y2="1049" stroke-width="2.5"/>
 <line x1="3781" y1="1093" x2="4737" y2="1093" stroke-width="2"/>
 <line x1="3781" y1="1183" x2="4737" y2="1183" stroke-width="2.5"/>
 <line x1="3913" y1="1049" x2="3913" y2="1183" stroke-width="1.5"/>
 <line x1="4022" y1="1049" x2="4022" y2="1183" stroke-width="1.5"/>
 <line x1="4125" y1="1049" x2="4125" y2="1183" stroke-width="1.5"/>
 <line x1="4294" y1="1049" x2="4294" y2="1183" stroke-width="1.5"/>
 <line x1="4407" y1="1049" x2="4407" y2="1183" stroke-width="1.5"/>
 <line x1="4518" y1="1049" x2="4518" y2="1183" stroke-width="1.5"/>
 <line x1="4628" y1="1049" x2="4628" y2="1183" stroke-width="1.5"/>
</g>
<text class="tb" x="3935" y="768" textLength="92" lengthAdjust="spacingAndGlyphs">Method</text>
<text class="tb" x="4291" y="752">H2O</text>
<text class="tb" x="4615" y="752">FPHA</text>
<text class="tb" x="4143" y="791">Left.h</text>
<text class="tb" x="4260" y="791">Right.h</text>
<text class="tb" x="4408" y="791" textLength="134" lengthAdjust="spacingAndGlyphs">Object L/R</text>
<text class="tb" x="4557" y="791">Right.h</text>
<text class="tb" x="4678" y="791">Object</text>
<text class="tb" x="3935" y="829" textLength="208" lengthAdjust="spacingAndGlyphs">Hasson et al. [<tspan class="gn">22</tspan>]</text>
<text class="tb" x="3935" y="866" textLength="188" lengthAdjust="spacingAndGlyphs">Tekin et al. [<tspan class="gn">50</tspan>]</text>
<text class="tb" x="3935" y="904" textLength="194" lengthAdjust="spacingAndGlyphs">Kwon et al. [<tspan class="gn">32</tspan>]</text>
<text class="tb" x="3935" y="942" textLength="174" lengthAdjust="spacingAndGlyphs">Wen et al. [<tspan class="gn">56</tspan>]</text>
<text class="tb" x="3935" y="980" textLength="267" lengthAdjust="spacingAndGlyphs">Aboukhadra1 et al. [<tspan class="gn">1</tspan>]</text>
<text class="tb" x="3935" y="1019">Ours</text>
<g class="tb">
 <text x="4143" y="829">39.6</text><text x="4260" y="829">41.9</text><text x="4408" y="829">67.5/66.1</text><text x="4557" y="829">18.0</text><text x="4678" y="829">22.3</text>
 <text x="4143" y="866">41.4</text><text x="4260" y="866">38.9</text><text x="4408" y="866">48.1/52.6</text><text x="4557" y="866">15.8</text><text x="4678" y="866">24.9</text>
 <text x="4143" y="904">41.5</text><text x="4260" y="904">37.2</text><text x="4408" y="904">47.9</text><text x="4557" y="904">-</text><text x="4678" y="904">-</text>
 <text x="4143" y="942">35.0</text><text x="4260" y="942">36.1</text><text x="4408" y="942">-</text><text x="4557" y="942">15.8</text><text x="4678" y="942">-</text>
 <text x="4143" y="980">36.8</text><text x="4260" y="980">36.5</text><text x="4408" y="980">73.9</text><text x="4557" y="980">-</text><text x="4678" y="980">-</text>
</g>
<g class="tb" font-weight="bold">
 <text x="4143" y="1019">24.4</text><text x="4260" y="1019">25.8</text><text x="4408" y="1019">45.2</text><text x="4557" y="1019">15.0</text><text x="4678" y="1019">21.0</text>
</g>
<g class="tb">
 <text x="3967" y="1081">C2D</text><text x="4073" y="1081">I3D</text><text x="4210" y="1081">SlowFast</text><text x="4349" y="1081">H+O</text><text x="4461" y="1081">H2O</text><text x="4572" y="1081">HTT</text><text x="4683" y="1081">Ours</text>
 <text x="3847" y="1125">H2O</text><text x="3967" y="1125">70.7</text><text x="4073" y="1125">75.2</text><text x="4210" y="1125">77.7</text><text x="4349" y="1125">68.9</text><text x="4461" y="1125">79.3</text><text x="4572" y="1125">86.4</text>
 <text x="3847" y="1169">FPHA</text><text x="3967" y="1169">-</text><text x="4073" y="1169">-</text><text x="4210" y="1169">-</text><text x="4349" y="1169">97.0</text><text x="4461" y="1169">-</text><text x="4572" y="1169">-</text>
</g>
<g class="tb" font-weight="bold"><text x="4683" y="1125">90.9</text><text x="4683" y="1169">98.4</text></g>

<text class="t" x="3802" y="1280" textLength="437" lengthAdjust="spacingAndGlyphs">Qualitative comparisons on <tspan class="it">H2O</tspan></text>
<!-- qualitative images -->
<use href="#qphoto" x="3787" y="1303" width="324" height="182"/>
<use href="#qphoto" x="4120" y="1303" width="323" height="182"/>
<use href="#qphoto" x="4452" y="1303" width="324" height="182"/>
<!-- row 2 renders -->
<use href="#cube" x="3969" y="1496" width="100" height="120"/>
<use href="#hand" transform="translate(4040 1520) rotate(-15)" width="62" height="100"/>
<circle cx="4055" cy="1570" r="14" fill="url(#hot)"/><circle cx="4010" cy="1600" r="14" fill="url(#hot)"/>
<use href="#hand" transform="translate(3818 1594) rotate(18)" width="55" height="100"/>
<use href="#cube" x="4287" y="1499" width="95" height="100"/>
<use href="#hand" transform="translate(4335 1515) rotate(-10)" width="60" height="92"/>
<circle cx="4310" cy="1570" r="11" fill="url(#hot)"/>
<use href="#hand" transform="translate(4186 1594) rotate(18)" width="55" height="100"/>
<use href="#cube" x="4569" y="1501" width="78" height="85"/>
<use href="#hand" transform="translate(4710 1540)" width="60" height="98"/>
<use href="#hand" transform="translate(4484 1592) rotate(18)" width="55" height="98"/>
<!-- row 3 -->
<use href="#hand" x="3787" y="1704" width="100" height="113"/>
<use href="#cube" x="3898" y="1704" width="101" height="113"/>
<circle cx="3975" cy="1740" r="14" fill="url(#hot)"/><circle cx="3935" cy="1790" r="14" fill="url(#hot)"/>
<use href="#hand" transform="translate(4110 1704) scale(-1 1)" width="100" height="113"/>
<circle cx="4045" cy="1730" r="10" fill="url(#hot)"/><circle cx="4062" cy="1722" r="10" fill="url(#hot)"/><circle cx="4100" cy="1760" r="10" fill="url(#hot)"/>
<use href="#hand" x="4122" y="1704" width="100" height="113"/>
<use href="#cube" x="4234" y="1704" width="98" height="113"/>
<circle cx="4290" cy="1785" r="14" fill="url(#hot)"/><circle cx="4310" cy="1735" r="10" fill="url(#hot)"/>
<use href="#hand" transform="translate(4442 1704) scale(-1 1)" width="100" height="113"/>
<circle cx="4375" cy="1725" r="10" fill="url(#hot)"/><circle cx="4392" cy="1720" r="10" fill="url(#hot)"/><circle cx="4435" cy="1765" r="10" fill="url(#hot)"/>
<use href="#hand" x="4452" y="1704" width="100" height="113"/>
<use href="#cube" x="4565" y="1704" width="100" height="113"/>
<use href="#hand" transform="translate(4775 1704) scale(-1 1)" width="100" height="113"/>
<!-- row 4 photos -->
<use href="#qphoto" x="3787" y="1829" width="324" height="183"/>
<use href="#qphoto" x="4120" y="1829" width="323" height="183"/>
<use href="#qphoto" x="4452" y="1829" width="324" height="183"/>
<g fill="none" stroke-width="2">
 <polygon points="3975,1905 4015,1888 4030,1925 3995,1945" stroke="#22ee22"/><polygon points="3968,1915 4005,1900 4020,1935 3985,1952" stroke="#22ee22"/>
 <polyline points="4030,1905 4045,1960 4015,1925" stroke="#2233ee"/>
 <path d="M3935 1950 L3915 2000 M3942 1955 L3925 2003 M3950 1958 L3935 2000" stroke="#ee2222"/>
 <polygon points="4285,1905 4320,1890 4335,1925 4300,1942" stroke="#22ee22"/>
 <path d="M4325 1900 L4345 1950 M4335 1905 L4352 1948" stroke="#2233ee"/>
 <path d="M4268 1950 L4250 2000 M4276 1952 L4258 2002" stroke="#ee2222"/>
 <polygon points="4600,1900 4632,1888 4645,1920 4612,1935" stroke="#22ee22"/>
 <path d="M4690 1925 L4705 1965 M4698 1922 L4712 1960" stroke="#2233ee"/>
 <path d="M4575 1945 L4560 1995 M4582 1948 L4567 1998" stroke="#ee2222"/>
</g>
<rect x="3787" y="1831" width="190" height="32" fill="#fdf0c9"/>
<rect x="4120" y="1831" width="190" height="32" fill="#fdf0c9"/>
<rect x="4452" y="1831" width="190" height="32" fill="#fdf0c9"/>
<g class="d b" font-size="21">
 <text x="3882" y="1855">place cappuccino</text>
 <text x="4215" y="1855">place cappuccino</text>
 <text x="4547" y="1855">place cappuccino</text>
</g>

<!-- ===== REFERENCES ===== -->
<text class="t" x="3803" y="2240" textLength="1066" lengthAdjust="spacingAndGlyphs">[1] Taein Kwon, Bugra Tekin, Jan Stühmer, Federica Bogo, and Marc Pollefeys.</text>
<text class="t" x="3803" y="2275" textLength="1066" lengthAdjust="spacingAndGlyphs">H2o: Two hands manipulating objects for first person interaction recognition.  In</text>
<text class="t" x="3803" y="2309" textLength="160" lengthAdjust="spacingAndGlyphs">ICCV, 2021.</text>
<text class="t" x="3803" y="2359" textLength="1066" lengthAdjust="spacingAndGlyphs">[2] Guillermo Garcia-Hernando, Shanxin Yuan, Seungryul Baek, and Tae-Kyun</text>
<text class="t" x="3803" y="2394" textLength="1066" lengthAdjust="spacingAndGlyphs">Kim.  First-person hand action benchmark with rgb-d videos and 3d hand pose</text>
<text class="t" x="3803" y="2429" textLength="384" lengthAdjust="spacingAndGlyphs">annotations. In CVPR, 2018.</text>
</svg>
</body></html>
